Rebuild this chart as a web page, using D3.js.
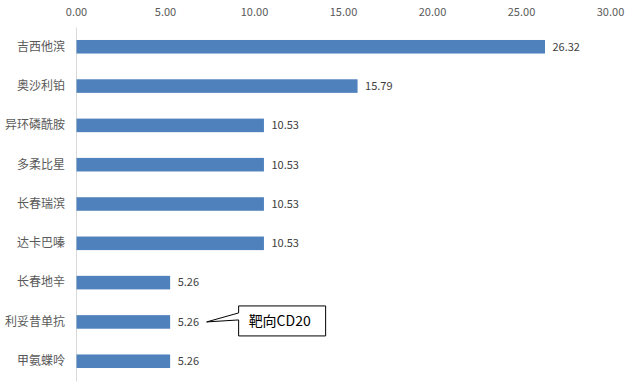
<!DOCTYPE html>
<html>
<head>
<meta charset="utf-8">
<script src="https://cdn.jsdelivr.net/npm/d3@7"></script>
<style>
  body { margin: 0; background: #fff; }
  text { font-family: "Noto Sans CJK SC", "Noto Sans", sans-serif; }
</style>
</head>
<body>
<div id="chart"></div>
<script>
// Data
const drugs = ["吉西他滨", "奥沙利铂", "异环磷酰胺", "多柔比星", "长春瑞滨", "达卡巴嗪", "长春地辛", "利妥昔单抗", "甲氨蝶呤"];
const values = [26.32, 15.79, 10.53, 10.53, 10.53, 10.53, 5.26, 5.26, 5.26];
const ticks = [0, 5, 10, 15, 20, 25, 30];
const note = { drug: "利妥昔单抗", text: "靶向CD20" };

// Dimensions
let dimensions = {
  width: 637,
  height: 387,
  left: 76,
  right: 27,
  top: 27,
  bottom: 6,
};
dimensions.ctrWidth = dimensions.width - dimensions.left - dimensions.right;
dimensions.ctrHeight = dimensions.height - dimensions.top - dimensions.bottom;

const svg = d3
  .select("#chart")
  .append("svg")
  .attr("width", dimensions.width)
  .attr("height", dimensions.height);

const ctr = svg
  .append("g")
  .attr("transform", `translate(${dimensions.left}, ${dimensions.top})`);

// Scales
const xScale = d3.scaleLinear().domain([0, 30]).range([0, dimensions.ctrWidth]);

const yScale = d3
  .scaleBand()
  .domain(drugs)
  .range([0, dimensions.ctrHeight])
  .paddingInner(0.655)
  .paddingOuter(0.33);

// Top axis
const xAxis = d3
  .axisTop(xScale)
  .tickValues(ticks)
  .tickFormat(d3.format(".2f"))
  .tickSize(0)
  .tickPadding(0);

const xAxisGroup = ctr
  .append("g")
  .attr("transform", "translate(0, -11)")
  .call(xAxis);
xAxisGroup.select(".domain").remove();
xAxisGroup
  .selectAll("text")
  .attr("font-size", 11)
  .attr("fill", "#595959")
  .attr("font-family", "\"Noto Sans CJK SC\", sans-serif");

// Left axis
const yAxis = d3.axisLeft(yScale).tickSize(0).tickPadding(11);
const yAxisGroup = ctr.append("g").call(yAxis);
yAxisGroup.select(".domain").attr("stroke", "#d9d9d9");
yAxisGroup
  .selectAll("text")
  .attr("font-size", 12)
  .attr("fill", "#595959")
  .attr("font-family", "\"Noto Sans CJK SC\", sans-serif");

// Bars
const rows = drugs.map((d, i) => ({ drug: d, value: values[i] }));

ctr
  .selectAll("rect")
  .data(rows)
  .join("rect")
  .attr("x", 0.5)
  .attr("y", (d) => yScale(d.drug))
  .attr("width", (d) => xScale(d.value))
  .attr("height", yScale.bandwidth())
  .attr("fill", "#4f81bd");

// Value labels
ctr
  .append("g")
  .selectAll("text")
  .data(rows)
  .join("text")
  .attr("x", (d) => xScale(d.value) + 8)
  .attr("y", (d) => yScale(d.drug) + yScale.bandwidth() / 2)
  .attr("dy", "0.35em")
  .attr("font-size", 11)
  .attr("fill", "#404040")
  .text((d) => d3.format(".2f")(d.value));

// Callout
const noteRow = rows.find((d) => d.drug === note.drug);
const cy = yScale(noteRow.drug) + yScale.bandwidth() / 2;
const tipX = xScale(noteRow.value) + 37;
const boxX = tipX + 32, boxW = 87, boxH = 30, boxY = cy - 16;

const callout = ctr.append("g");
callout
  .append("path")
  .attr(
    "d",
    `M${boxX},${boxY} H${boxX + boxW} V${boxY + boxH} H${boxX} V${cy - 2} L${tipX},${cy} L${boxX},${cy - 9} Z`
  )
  .attr("fill", "#fff")
  .attr("stroke", "#000")
  .attr("stroke-width", 1);
callout
  .append("text")
  .attr("x", boxX + 10)
  .attr("y", boxY + boxH / 2)
  .attr("dy", "0.35em")
  .attr("font-size", 14)
  .attr("fill", "#000")
  .text(note.text);
</script>
</body>
</html>
